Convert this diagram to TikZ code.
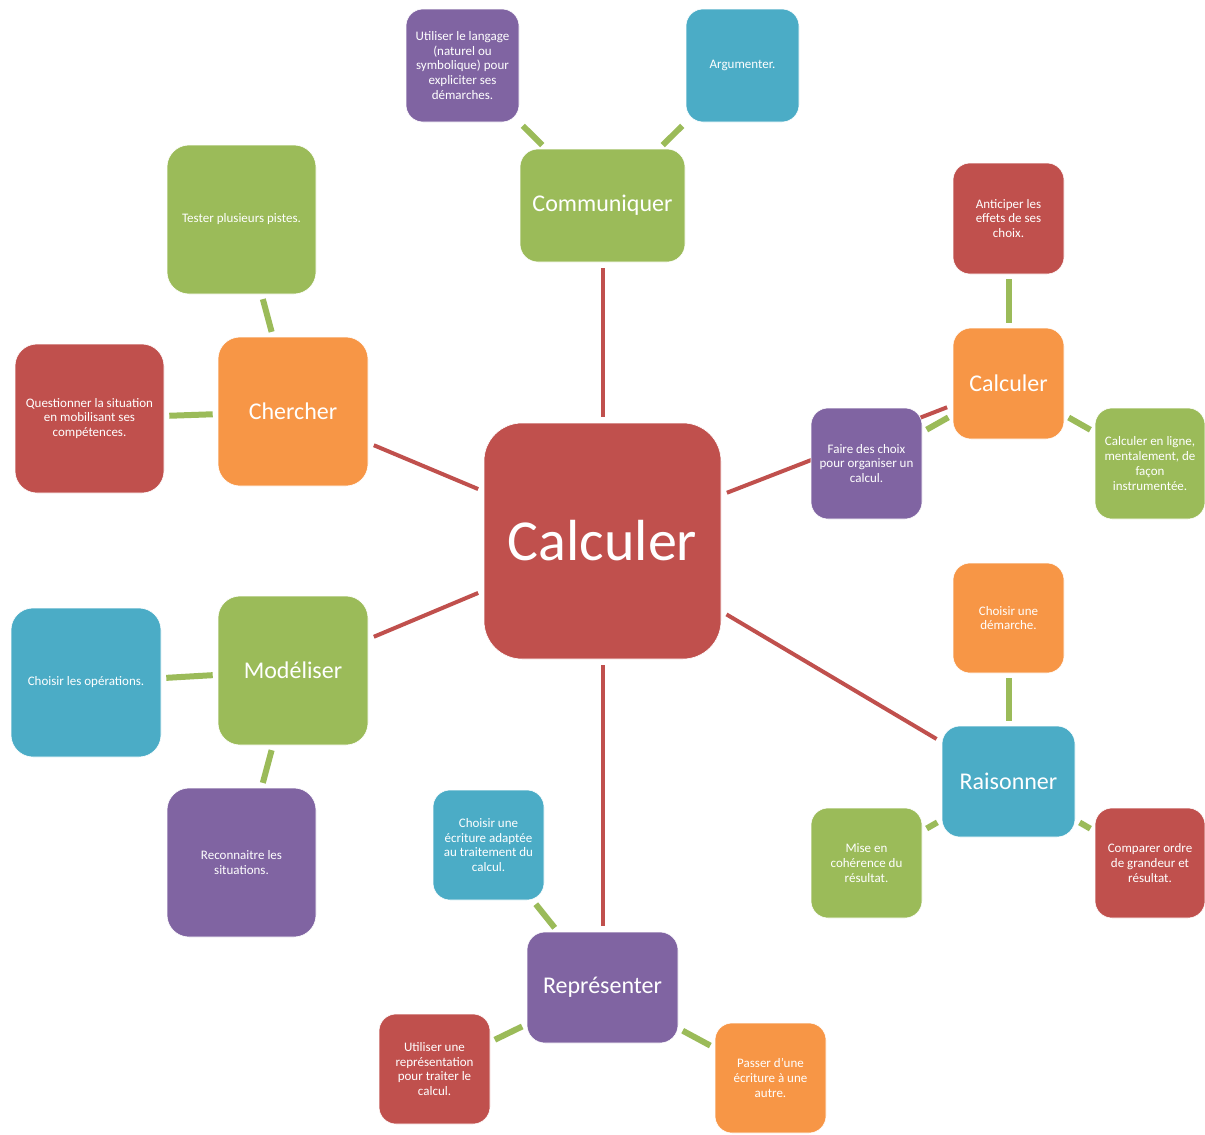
\documentclass[tikz,border=0pt]{standalone}
\usepackage{fontspec}
\setmainfont{Carlito}
\usetikzlibrary{backgrounds}
\definecolor{ored}{HTML}{C0504D}
\definecolor{oorange}{HTML}{F79646}
\definecolor{ogreen}{HTML}{9BBB59}
\definecolor{opurple}{HTML}{8064A2}
\definecolor{oblue}{HTML}{4BACC6}
\newcommand{\smallf}{\fontsize{13}{14.7}\selectfont}
\newcommand{\midf}{\fontsize{24}{28}\selectfont}
\newcommand{\bigf}{\fontsize{58}{64}\selectfont}
\tikzset{
  box/.style={rectangle, inner sep=0pt, text=white, align=center, draw=white, line width=0.6pt},
  subbox/.style={box, rounded corners=17pt, font=\smallf},
  subS/.style={subbox, minimum width=111pt, minimum height=111pt},
  subL/.style={subbox, minimum width=149pt, minimum height=149pt, rounded corners=22pt},
  midbox/.style={box, rounded corners=18pt, font=\midf},
  redline/.style={draw=ored, line width=4pt, shorten >=6pt, shorten <=6pt},
  greenline/.style={draw=ogreen, line width=6pt, shorten >=5pt, shorten <=5pt}
}
\begin{document}
\begin{tikzpicture}[x=1pt,y=-1pt]
\useasboundingbox (0,0) rectangle (1205,1135);
% central node
\node[box, rounded corners=38pt, font=\bigf, fill=ored, minimum width=237pt, minimum height=236pt] (main) at (602.5,541) {Calculer};
% Communiquer
\node[midbox, fill=ogreen, minimum width=165pt, minimum height=113pt] (comm) at (602.5,205.5) {Communiquer};
\node[subS, fill=opurple, minimum width=113pt, minimum height=113pt] (lang) at (462.5,65.5) {Utiliser le langage\\(naturel ou\\symbolique) pour\\expliciter ses\\démarches.};
\node[subS, fill=oblue, minimum width=113pt, minimum height=113pt] (arg) at (742.5,65.5) {Argumenter.};
% Chercher
\node[midbox, rounded corners=22pt, fill=oorange, minimum width=150pt, minimum height=149pt] (cher) at (293,411.5) {Chercher};
\node[subL, fill=ogreen] (test) at (241.5,219.5) {Tester plusieurs pistes.};
\node[subL, fill=ored] (quest) at (89.5,418.5) {Questionner la situation\\en mobilisant ses\\compétences.};
% Modeliser
\node[midbox, rounded corners=22pt, fill=ogreen, minimum width=150pt, minimum height=149pt] (mod) at (293,670.5) {Modéliser};
\node[subL, fill=oblue, minimum width=150pt] (ope) at (86,682.5) {Choisir les opérations.};
\node[subL, fill=opurple] (reco) at (241.5,862.5) {Reconnaitre les\\situations.};
% Representer
\node[midbox, fill=opurple, minimum width=151pt, minimum height=111pt] (rep) at (602.5,987.5) {Représenter};
\node[subS, fill=oblue, minimum height=110pt] (ecr) at (488.5,845) {Choisir une\\écriture adaptée\\au traitement du\\calcul.};
\node[subS, fill=ored, minimum height=110pt] (urep) at (434.5,1069) {Utiliser une\\représentation\\pour traiter le\\calcul.};
\node[subS, fill=oorange, minimum height=110pt] (pass) at (770.5,1078) {Passer d’une\\écriture à une\\autre.};
% Raisonner
\node[midbox, fill=oblue, minimum width=133pt, minimum height=111pt] (rais) at (1008.5,781.5) {Raisonner};
\node[subS, fill=oorange, minimum height=110pt] (dem) at (1008.5,618) {Choisir une\\démarche.};
\node[subS, fill=ogreen, minimum height=110pt] (mise) at (866.5,863) {Mise en\\cohérence du\\résultat.};
\node[subS, fill=ored, minimum width=110pt, minimum height=110pt] (comp) at (1150,863) {Comparer ordre\\de grandeur et\\résultat.};
% Calculer (sub)
\node[midbox, fill=oorange, minimum width=111pt, minimum height=111pt] (calc) at (1008.5,383.5) {Calculer};
\node[subS, fill=ored] (anti) at (1008.5,218.5) {Anticiper les\\effets de ses\\choix.};
\node[subS, fill=opurple] (faire) at (866.5,463.5) {Faire des choix\\pour organiser un\\calcul.};
\node[subS, fill=ogreen, minimum width=110pt] (enl) at (1150,463.5) {Calculer en ligne,\\mentalement, de\\façon\\instrumentée.};
% connectors
\begin{pgfonlayer}{background}
\draw[redline] (main) -- (comm);
\draw[redline] (main) -- (cher);
\draw[redline] (main) -- (mod);
\draw[redline] (main) -- (rep);
\draw[redline] (main) -- (rais);
\draw[redline] (main) -- (calc);
\draw[greenline] (comm) -- (lang);
\draw[greenline] (comm) -- (arg);
\draw[greenline] (cher) -- (test);
\draw[greenline] (cher) -- (quest);
\draw[greenline] (mod) -- (ope);
\draw[greenline] (mod) -- (reco);
\draw[greenline] (rep) -- (ecr);
\draw[greenline] (rep) -- (urep);
\draw[greenline] (rep) -- (pass);
\draw[greenline] (rais) -- (dem);
\draw[greenline] (rais) -- (mise);
\draw[greenline] (rais) -- (comp);
\draw[greenline] (calc) -- (anti);
\draw[greenline] (calc) -- (faire);
\draw[greenline] (calc) -- (enl);
\end{pgfonlayer}
\end{tikzpicture}
\end{document}
